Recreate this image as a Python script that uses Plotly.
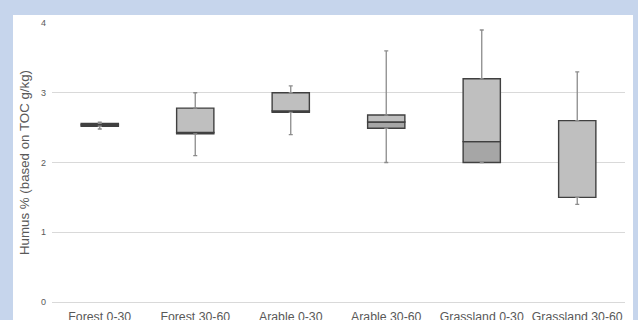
import plotly.graph_objects as go

categories = ["Forest 0-30", "Forest 30-60", "Arable 0-30", "Arable 30-60", "Grassland 0-30", "Grassland 30-60"]
whisker_low = [2.48, 2.10, 2.40, 2.00, 2.00, 1.40]
q1 = [2.52, 2.41, 2.72, 2.49, 2.00, 1.50]
median = [2.54, 2.43, 2.74, 2.58, 2.30, 1.50]
q3 = [2.56, 2.78, 3.00, 2.68, 3.20, 2.60]
whisker_high = [2.58, 3.00, 3.10, 3.60, 3.90, 3.30]
y_ticks = [0, 1, 2, 3, 4]

font_family = "Liberation Sans, Arial, sans-serif"
box_line = dict(color="#404040", width=1.4)
box_width = 0.39

fig = go.Figure()

# whiskers (upper and lower) as error bars
fig.add_trace(go.Scatter(
    x=categories, y=q3, mode="markers", marker=dict(opacity=0),
    error_y=dict(type="data", symmetric=False,
                 array=[h - t for h, t in zip(whisker_high, q3)],
                 arrayminus=[0] * len(q3),
                 color="#8c8c8c", thickness=1.3, width=2),
    showlegend=False, hoverinfo="skip"))
fig.add_trace(go.Scatter(
    x=categories, y=q1, mode="markers", marker=dict(opacity=0),
    error_y=dict(type="data", symmetric=False,
                 array=[0] * len(q1),
                 arrayminus=[b - l for b, l in zip(q1, whisker_low)],
                 color="#8c8c8c", thickness=1.3, width=2),
    showlegend=False, hoverinfo="skip"))

# lower box part (Q1 -> median), darker
fig.add_trace(go.Bar(
    x=categories, base=q1, y=[m - b for m, b in zip(median, q1)],
    width=box_width, marker=dict(color="#a6a6a6", line=box_line),
    showlegend=False, hoverinfo="skip"))
# upper box part (median -> Q3), lighter
fig.add_trace(go.Bar(
    x=categories, base=median, y=[t - m for t, m in zip(q3, median)],
    width=box_width, marker=dict(color="#bfbfbf", line=box_line),
    showlegend=False, hoverinfo="skip"))

L, R, T, B = 52, 13, 23, 18
W, H = 638, 320
pw, ph = W - L - R, H - T - B

fig.add_shape(type="rect", xref="paper", yref="paper", layer="below",
              x0=(13 - L) / pw, x1=(633 - L) / pw,
              y0=-(H - T) / ph - 0.1, y1=1 + (T - 15) / ph,
              fillcolor="white", line=dict(width=0))

fig.update_layout(
    width=W, height=H,
    margin=dict(l=L, r=R, t=T, b=B, autoexpand=False),
    paper_bgcolor="#c6d5ec",
    plot_bgcolor="white",
    barmode="overlay",
    font=dict(family=font_family, color="#595959"),
    xaxis=dict(showgrid=False, showline=False, ticks="", zeroline=False,
               automargin=False, ticklabelstandoff=6,
               tickfont=dict(size=12.3, color="#595959")),
    yaxis=dict(range=[0, 4.0], tickvals=y_ticks, showgrid=True,
               gridcolor="#d9d9d9", gridwidth=1, zeroline=True,
               zerolinecolor="#d9d9d9", zerolinewidth=1, showline=False,
               automargin=False, ticklabelstandoff=5,
               ticks="", tickfont=dict(size=9, color="#595959"),
               title=dict(text="Humus % (based on TOC g/kg)",
                          font=dict(size=13.3, color="#595959"), standoff=8)),
)

fig.write_html("out.html",
               config={"displayModeBar": False, "staticPlot": True},
               post_script="document.body.style.margin='0';document.body.style.overflow='hidden';")
